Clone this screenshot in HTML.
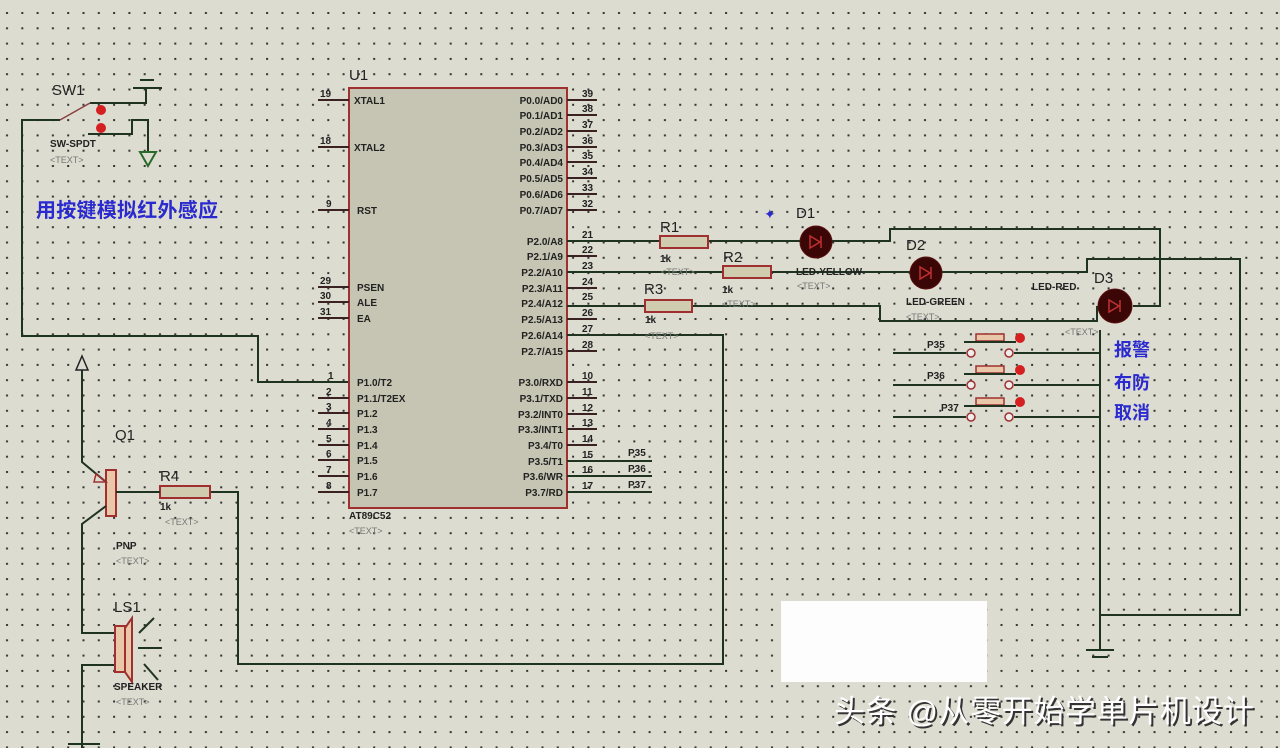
<!DOCTYPE html>
<html><head><meta charset="utf-8"><style>
html,body{margin:0;padding:0;background:#dddcd0;}
svg{display:block}
text{font-family:"Liberation Sans",sans-serif;}
.w{stroke:#1e3320;stroke-width:2;fill:none}
.p{stroke:#3a2222;stroke-width:2}
.lab{font-size:10px;font-weight:bold;fill:#222}
.pn{font-size:10px;font-weight:bold;fill:#222}
.t{font-size:9px;fill:#777}
.cn{font-family:"Liberation Sans","Noto Sans CJK SC",sans-serif;font-size:18px;fill:#2a2ad0;font-weight:bold}
</style></head><body>
<svg width="1280" height="748" viewBox="0 0 1280 748" xmlns="http://www.w3.org/2000/svg">
<defs><pattern id="d" x="0" y="12" width="15.3" height="15.3" patternUnits="userSpaceOnUse"><rect x="6" y="0" width="2" height="2" fill="#333"/></pattern></defs>
<rect width="1280" height="748" fill="#dddcd0"/>
<rect width="1280" height="748" fill="url(#d)"/>

<!-- SW1 -->
<text x="52" y="95" font-size="15" fill="#222">SW1</text>
<line x1="133" y1="88" x2="162" y2="88" class="w"/><line x1="140" y1="80" x2="154" y2="80" class="w"/>
<polyline points="90,103 146,103 146,88" class="w"/>
<line x1="60" y1="120" x2="90" y2="103" stroke="#8a4040" stroke-width="1.5"/>
<polyline points="60,120 22,120 22,336 258,336 258,382 349,382" class="w"/>
<circle cx="101" cy="110" r="5" fill="#d42020"/><circle cx="101" cy="128" r="5" fill="#d42020"/>
<polyline points="88,134 132,134 132,120 148,120 148,152" class="w"/>
<polygon points="140,152 156,152 148,166" fill="none" stroke="#2a6a2a" stroke-width="2"/>
<text x="50" y="147" class="lab">SW-SPDT</text><text x="50" y="163" class="t">&lt;TEXT&gt;</text>
<text x="36" y="217" class="cn" style="font-size:20px" textLength="182">用按键模拟红外感应</text>

<!-- chip -->
<text x="349" y="80" font-size="15" fill="#222">U1</text>
<rect x="349" y="88" width="218" height="420" fill="#c6c5b3" stroke="#a03030" stroke-width="2"/>
<g class="p">
<line x1="318" y1="100" x2="349" y2="100"/><line x1="318" y1="147" x2="349" y2="147"/><line x1="318" y1="210" x2="349" y2="210"/>
<line x1="318" y1="287" x2="349" y2="287"/><line x1="318" y1="302" x2="349" y2="302"/><line x1="318" y1="318" x2="349" y2="318"/>
<line x1="318" y1="398" x2="349" y2="398"/><line x1="318" y1="413" x2="349" y2="413"/><line x1="318" y1="429" x2="349" y2="429"/>
<line x1="318" y1="445" x2="349" y2="445"/><line x1="318" y1="460" x2="349" y2="460"/><line x1="318" y1="476" x2="349" y2="476"/><line x1="318" y1="492" x2="349" y2="492"/>
<line x1="567" y1="100" x2="597" y2="100"/><line x1="567" y1="115" x2="597" y2="115"/><line x1="567" y1="131" x2="597" y2="131"/><line x1="567" y1="147" x2="597" y2="147"/>
<line x1="567" y1="162" x2="597" y2="162"/><line x1="567" y1="178" x2="597" y2="178"/><line x1="567" y1="194" x2="597" y2="194"/><line x1="567" y1="210" x2="597" y2="210"/>
<line x1="567" y1="256" x2="597" y2="256"/><line x1="567" y1="288" x2="597" y2="288"/><line x1="567" y1="319" x2="597" y2="319"/><line x1="567" y1="351" x2="597" y2="351"/>
<line x1="567" y1="382" x2="597" y2="382"/><line x1="567" y1="398" x2="597" y2="398"/><line x1="567" y1="414" x2="597" y2="414"/><line x1="567" y1="429" x2="597" y2="429"/>
<line x1="567" y1="445" x2="597" y2="445"/><line x1="567" y1="492" x2="597" y2="492"/>
</g>
<g class="pn">
<text x="320" y="97">19</text><text x="320" y="144">18</text><text x="326" y="207">9</text><text x="320" y="284">29</text><text x="320" y="299">30</text><text x="320" y="315">31</text>
<text x="328" y="379">1</text><text x="326" y="395">2</text><text x="326" y="410">3</text><text x="326" y="426">4</text><text x="326" y="442">5</text><text x="326" y="457">6</text><text x="326" y="473">7</text><text x="326" y="489">8</text>
<text x="582" y="97">39</text><text x="582" y="112">38</text><text x="582" y="128">37</text><text x="582" y="144">36</text><text x="582" y="159">35</text><text x="582" y="175">34</text><text x="582" y="191">33</text><text x="582" y="207">32</text>
<text x="582" y="238">21</text><text x="582" y="253">22</text><text x="582" y="269">23</text><text x="582" y="285">24</text><text x="582" y="300">25</text><text x="582" y="316">26</text><text x="582" y="332">27</text><text x="582" y="348">28</text>
<text x="582" y="379">10</text><text x="582" y="395">11</text><text x="582" y="411">12</text><text x="582" y="426">13</text><text x="582" y="442">14</text><text x="582" y="458">15</text><text x="582" y="473">16</text><text x="582" y="489">17</text>
</g>
<g class="pn">
<text x="354" y="104">XTAL1</text><text x="354" y="151">XTAL2</text><text x="357" y="214">RST</text>
<text x="357" y="291">PSEN</text><text x="357" y="306">ALE</text><text x="357" y="322">EA</text>
<text x="357" y="386">P1.0/T2</text><text x="357" y="402">P1.1/T2EX</text><text x="357" y="417">P1.2</text><text x="357" y="433">P1.3</text><text x="357" y="449">P1.4</text><text x="357" y="464">P1.5</text><text x="357" y="480">P1.6</text><text x="357" y="496">P1.7</text>
</g>
<g class="pn" text-anchor="end">
<text x="563" y="104">P0.0/AD0</text><text x="563" y="119">P0.1/AD1</text><text x="563" y="135">P0.2/AD2</text><text x="563" y="151">P0.3/AD3</text><text x="563" y="166">P0.4/AD4</text><text x="563" y="182">P0.5/AD5</text><text x="563" y="198">P0.6/AD6</text><text x="563" y="214">P0.7/AD7</text>
<text x="563" y="245">P2.0/A8</text><text x="563" y="260">P2.1/A9</text><text x="563" y="276">P2.2/A10</text><text x="563" y="292">P2.3/A11</text><text x="563" y="307">P2.4/A12</text><text x="563" y="323">P2.5/A13</text><text x="563" y="339">P2.6/A14</text><text x="563" y="355">P2.7/A15</text>
<text x="563" y="386">P3.0/RXD</text><text x="563" y="402">P3.1/TXD</text><text x="563" y="418">P3.2/INT0</text><text x="563" y="433">P3.3/INT1</text><text x="563" y="449">P3.4/T0</text><text x="563" y="465">P3.5/T1</text><text x="563" y="480">P3.6/WR</text><text x="563" y="496">P3.7/RD</text>
</g>
<text x="349" y="519" class="lab">AT89C52</text><text x="349" y="534" class="t">&lt;TEXT&gt;</text>
<polyline points="567,461 652,461" class="w"/><polyline points="567,476 652,476" class="w"/><polyline points="567,492 652,492" class="w"/>
<text x="628" y="456" class="pn">P35</text><text x="628" y="472" class="pn">P36</text><text x="628" y="488" class="pn">P37</text>

<!-- LED circuits -->
<polyline points="567,241 660,241" class="w"/><polyline points="708,241 800,241" class="w"/>
<polyline points="832,241 890,241 890,229 1160,229 1160,306 1133,306" class="w"/>
<polyline points="567,272 723,272" class="w"/><polyline points="771,272 910,272" class="w"/>
<polyline points="942,272 1087,272 1087,259 1240,259 1240,615 1100,615" class="w"/>
<polyline points="567,306 645,306" class="w"/><polyline points="692,306 880,306 880,321 1097,321 1097,306" class="w"/>
<polyline points="1100,330 1100,650" class="w"/>
<line x1="1086" y1="650" x2="1114" y2="650" class="w"/><line x1="1092" y1="657" x2="1108" y2="657" class="w"/>
<polyline points="567,335 723,335 723,664 238,664 238,492 210,492" class="w"/>

<g fill="#cfccb0" stroke="#a03030" stroke-width="2">
<rect x="660" y="236" width="48" height="12"/><rect x="723" y="266" width="48" height="12"/><rect x="645" y="300" width="47" height="12"/><rect x="160" y="486" width="50" height="12"/>
</g>
<text x="660" y="232" font-size="15" fill="#222">R1</text><text x="723" y="262" font-size="15" fill="#222">R2</text><text x="644" y="294" font-size="15" fill="#222">R3</text><text x="160" y="481" font-size="15" fill="#222">R4</text>
<text x="660" y="262" class="pn">1k</text><text x="722" y="293" class="pn">1k</text><text x="645" y="323" class="pn">1k</text><text x="160" y="510" class="pn">1k</text>
<text x="661" y="275" class="t">&lt;TEXT&gt;</text><text x="722" y="307" class="t">&lt;TEXT&gt;</text><text x="645" y="339" class="t">&lt;TEXT&gt;</text><text x="165" y="525" class="t">&lt;TEXT&gt;</text>

<g fill="#3a0606" stroke="#5a1010" stroke-width="1">
<circle cx="816" cy="242" r="16"/><circle cx="926" cy="273" r="16"/><circle cx="1115" cy="306" r="17"/>
</g>
<g stroke="#c03030" stroke-width="1.5" fill="none">
<polygon points="810,236 810,248 820,242"/><line x1="821" y1="236" x2="821" y2="248"/>
<polygon points="920,267 920,279 930,273"/><line x1="931" y1="267" x2="931" y2="279"/>
<polygon points="1109,300 1109,312 1119,306"/><line x1="1120" y1="300" x2="1120" y2="312"/>
</g>
<text x="796" y="218" font-size="15" fill="#222">D1</text><text x="906" y="250" font-size="15" fill="#222">D2</text><text x="1094" y="283" font-size="15" fill="#222">D3</text>
<text x="764" y="219" fill="#2a2ad0" font-size="14">✦</text>
<text x="796" y="275" class="pn">LED-YELLOW</text><text x="797" y="289" class="t">&lt;TEXT&gt;</text>
<text x="906" y="305" class="pn">LED-GREEN</text><text x="906" y="320" class="t">&lt;TEXT&gt;</text>
<text x="1032" y="290" class="pn">LED-RED</text><text x="1065" y="335" class="t">&lt;TEXT&gt;</text>

<!-- buttons -->
<g>
<polyline points="893,353 966,353" class="w"/><polyline points="1014,353 1100,353" class="w"/>
<polyline points="893,385 966,385" class="w"/><polyline points="1014,385 1100,385" class="w"/>
<polyline points="893,417 966,417" class="w"/><polyline points="1014,417 1100,417" class="w"/>
<g fill="#eee" stroke="#a03030" stroke-width="1.5">
<circle cx="971" cy="353" r="4"/><circle cx="1009" cy="353" r="4"/>
<circle cx="971" cy="385" r="4"/><circle cx="1009" cy="385" r="4"/>
<circle cx="971" cy="417" r="4"/><circle cx="1009" cy="417" r="4"/>
<rect x="976" y="334" width="28" height="7" fill="#e8c8a8"/><rect x="976" y="366" width="28" height="7" fill="#e8c8a8"/><rect x="976" y="398" width="28" height="7" fill="#e8c8a8"/>
</g>
<line x1="964" y1="342" x2="1016" y2="342" class="w" stroke-width="1.5"/><line x1="964" y1="374" x2="1016" y2="374" class="w" stroke-width="1.5"/><line x1="964" y1="406" x2="1016" y2="406" class="w" stroke-width="1.5"/>
<circle cx="1020" cy="338" r="5" fill="#d42020"/><circle cx="1020" cy="370" r="5" fill="#d42020"/><circle cx="1020" cy="402" r="5" fill="#d42020"/>
<text x="927" y="348" class="pn">P35</text><text x="927" y="379" class="pn">P36</text><text x="941" y="411" class="pn">P37</text>
</g>
<text x="1114" y="356" class="cn">报警</text><text x="1114" y="389" class="cn">布防</text><text x="1114" y="419" class="cn">取消</text>

<!-- Q1 -->
<text x="115" y="440" font-size="15" fill="#222">Q1</text>
<rect x="106" y="470" width="10" height="46" fill="#e8c8a8" stroke="#a03030" stroke-width="2"/>
<line x1="116" y1="492" x2="160" y2="492" class="w"/>
<polyline points="106,482 82,462 82,360" class="w"/>
<polygon points="76,370 88,370 82,356" fill="#dddcd0" stroke="#222" stroke-width="1.5"/>
<polygon points="96,474 106,482 94,482" fill="none" stroke="#a03030" stroke-width="1.5"/>
<polyline points="106,506 82,524 82,633 115,633" class="w"/>
<polyline points="115,665 82,665 82,748" class="w"/>
<line x1="68" y1="744" x2="100" y2="744" class="w"/>
<text x="116" y="549" class="pn">PNP</text><text x="116" y="564" class="t">&lt;TEXT&gt;</text>
<text x="114" y="612" font-size="15" fill="#222">LS1</text>
<rect x="115" y="626" width="10" height="46" fill="#e8c8a8" stroke="#a03030" stroke-width="2"/>
<polygon points="125,628 132,618 132,682 125,672" fill="#e8c8a8" stroke="#a03030" stroke-width="2"/>
<line x1="139" y1="633" x2="154" y2="618" class="w" stroke-width="1.5"/><line x1="138" y1="648" x2="162" y2="648" class="w" stroke-width="1.5"/><line x1="144" y1="664" x2="158" y2="680" class="w" stroke-width="1.5"/>
<text x="114" y="690" class="pn">SPEAKER</text><text x="116" y="705" class="t">&lt;TEXT&gt;</text>

<!-- white box and watermark -->
<rect x="781" y="601" width="206" height="81" fill="#fdfdfd"/>
<text x="836" y="724" font-family="Liberation Sans,Noto Sans CJK SC,sans-serif" font-size="31" fill="#333" textLength="420">头条 @从零开始学单片机设计</text>
<text x="834" y="722" font-family="Liberation Sans,Noto Sans CJK SC,sans-serif" font-size="31" fill="#fff" textLength="420">头条 @从零开始学单片机设计</text>
</svg>
</body></html>
